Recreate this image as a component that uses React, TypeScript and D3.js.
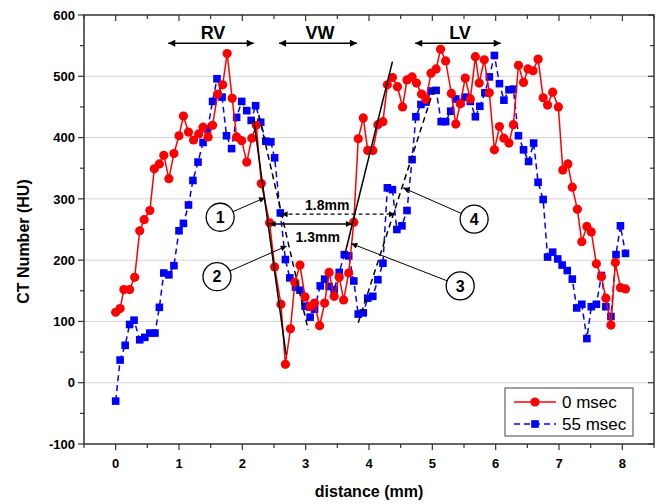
import * as d3 from "d3";

const W = 659;
const H = 504;

// data (distance mm, CT number HU)
const series0msec: [number, number][] = [
  [0, 115], [0.07, 121], [0.13, 152], [0.22, 152], [0.3, 172], [0.38, 248], [0.45, 266], [0.54, 281],
  [0.61, 349], [0.69, 357], [0.76, 371], [0.84, 333], [0.92, 374], [1.0, 403], [1.07, 435], [1.15, 409],
  [1.23, 396], [1.31, 406], [1.38, 417], [1.46, 401], [1.53, 420], [1.61, 471], [1.69, 486], [1.76, 537],
  [1.84, 464], [1.91, 401], [1.99, 395], [2.07, 360], [2.15, 399], [2.22, 420], [2.3, 325], [2.43, 261],
  [2.51, 189], [2.61, 128], [2.68, 30], [2.76, 88], [2.83, 164], [2.91, 192], [2.99, 140], [3.07, 124],
  [3.14, 130], [3.22, 93], [3.3, 130], [3.37, 180], [3.45, 141], [3.53, 172], [3.6, 135], [3.68, 179],
  [3.76, 262], [3.83, 398], [3.91, 432], [3.98, 379], [4.06, 379], [4.14, 421], [4.22, 426], [4.29, 486],
  [4.37, 498], [4.45, 483], [4.53, 450], [4.6, 494], [4.68, 499], [4.75, 489], [4.83, 471], [4.9, 462],
  [4.98, 505], [5.06, 512], [5.13, 544], [5.21, 525], [5.3, 472], [5.37, 422], [5.44, 455], [5.52, 497],
  [5.6, 463], [5.68, 532], [5.74, 489], [5.82, 527], [5.9, 473], [5.98, 380], [6.06, 418], [6.13, 399],
  [6.21, 391], [6.28, 421], [6.36, 518], [6.44, 490], [6.51, 512], [6.59, 509], [6.67, 528], [6.75, 465],
  [6.82, 453], [6.9, 474], [6.99, 450], [7.06, 347], [7.14, 357], [7.21, 319], [7.29, 283], [7.36, 230],
  [7.44, 255], [7.51, 246], [7.59, 194], [7.67, 173], [7.74, 138], [7.82, 94], [7.89, 196], [7.97, 155],
  [8.05, 153],
];

const series55msec: [number, number][] = [
  [0, -30], [0.07, 37], [0.15, 61], [0.22, 95], [0.29, 102], [0.38, 70], [0.46, 74], [0.54, 81],
  [0.62, 81], [0.69, 123], [0.76, 179], [0.84, 176], [0.92, 191], [1.0, 248], [1.07, 260], [1.15, 290],
  [1.22, 330], [1.3, 360], [1.38, 392], [1.45, 413], [1.53, 459], [1.6, 496], [1.68, 466], [1.75, 403],
  [1.83, 382], [1.91, 433], [1.99, 459], [2.07, 444], [2.14, 428], [2.21, 452], [2.29, 425], [2.37, 394],
  [2.45, 393], [2.51, 367], [2.6, 277], [2.68, 201], [2.75, 171], [2.84, 156], [2.91, 151], [2.99, 125],
  [3.07, 107], [3.14, 120], [3.23, 158], [3.3, 169], [3.37, 157], [3.45, 152], [3.53, 180], [3.61, 209],
  [3.68, 207], [3.76, 166], [3.83, 112], [3.91, 114], [3.98, 138], [4.06, 141], [4.14, 168], [4.22, 195],
  [4.29, 318], [4.37, 315], [4.44, 250], [4.52, 256], [4.6, 281], [4.68, 364], [4.74, 434], [4.82, 454],
  [4.9, 458], [4.98, 476], [5.06, 477], [5.14, 426], [5.21, 426], [5.29, 443], [5.37, 463], [5.45, 457],
  [5.52, 466], [5.6, 459], [5.68, 434], [5.75, 451], [5.83, 473], [5.9, 499], [5.98, 534], [6.06, 488],
  [6.13, 461], [6.21, 478], [6.28, 479], [6.36, 403], [6.44, 380], [6.52, 361], [6.6, 391], [6.67, 327],
  [6.75, 299], [6.82, 205], [6.9, 213], [6.98, 202], [7.05, 192], [7.13, 183], [7.21, 169], [7.28, 122],
  [7.36, 128], [7.44, 72], [7.51, 124], [7.59, 128], [7.67, 175], [7.74, 124], [7.82, 108], [7.9, 209],
  [7.97, 256], [8.05, 211],
];

const xTicks = [0, 1, 2, 3, 4, 5, 6, 7, 8];
const xMinor = [-0.5, 0.5, 1.5, 2.5, 3.5, 4.5, 5.5, 6.5, 7.5, 8.5];
const yTicks = [-100, 0, 100, 200, 300, 400, 500, 600];
const yMinor = [-50, 50, 150, 250, 350, 450, 550];
const gridValues = [0, 100, 200, 300, 400, 500];

// anatomical regions over the top
const regionLabels = ["RV", "VW", "LV"];
const regionFrom = [0.83, 2.58, 4.73];
const regionTo = [2.18, 3.81, 6.08];
const regionLevel = 554;

// fitted slopes (solid = 0 msec, dashed = 55 msec)
const slopeLines: { a: [number, number]; b: [number, number]; dashed: boolean }[] = [
  { a: [2.18, 429], b: [2.69, 46], dashed: false },
  { a: [2.26, 437], b: [3.04, 86], dashed: true },
  { a: [3.62, 210], b: [4.37, 524], dashed: false },
  { a: [3.83, 98], b: [5.03, 481], dashed: true },
];

// width measurements
const spans = [
  { label: "1.8mm", from: 2.62, to: 4.41, level: 275, textX: 3.34, textY: 290, dashed: true },
  { label: "1.3mm", from: 2.43, to: 3.73, level: 259, textX: 3.19, textY: 238, dashed: false },
];

// numbered callouts: circle centre and arrow target
const callouts = [
  { n: "1", c: [1.65, 270], t: [2.36, 302] },
  { n: "2", c: [1.6, 173], t: [2.7, 223] },
  { n: "3", c: [5.44, 158], t: [3.72, 227] },
  { n: "4", c: [5.66, 267], t: [4.54, 318] },
];

const legendNames = ["0 msec", "55 msec"];

const FONT = "'Liberation Sans', Arial, sans-serif";
const RED = "#ff0000";
const BLUE = "#0000ff";

export default function App() {
  const x = d3.scaleLinear().domain([-0.5, 8.5]).range([84, 654]);
  const y = d3.scaleLinear().domain([-100, 600]).range([444, 15]);
  const line = d3
    .line<[number, number]>()
    .x((d) => x(d[0]))
    .y((d) => y(d[1]));

  const [x0, x1] = x.range();
  const [y0, y1] = y.range();
  const sq = 7.6;

  return (
    <svg
      width={W}
      height={H}
      viewBox={`0 0 ${W} ${H}`}
      style={{ position: "absolute", left: 0, top: 0, background: "#fff", fontFamily: FONT }}
    >
      <defs>
        <marker id="ahBig" viewBox="0 0 10 10" refX="10" refY="5" markerWidth="9" markerHeight="7" markerUnits="userSpaceOnUse" orient="auto-start-reverse">
          <path d="M0,0 L10,5 L0,10 z" fill="#000" />
        </marker>
        <marker id="ahSmall" viewBox="0 0 10 10" refX="10" refY="5" markerWidth="7" markerHeight="6" markerUnits="userSpaceOnUse" orient="auto-start-reverse">
          <path d="M0,0 L10,5 L0,10 z" fill="#000" />
        </marker>
      </defs>

      {/* grid */}
      {gridValues.map((v) => (
        <line key={v} x1={x0} x2={x1} y1={y(v)} y2={y(v)} stroke="#d4d4d4" strokeWidth={1} />
      ))}

      {/* 55 msec */}
      <path d={line(series55msec) ?? ""} fill="none" stroke={BLUE} strokeWidth={1.5} strokeDasharray="6,4" />
      {series55msec.map((d, i) => (
        <rect key={i} x={x(d[0]) - sq / 2} y={y(d[1]) - sq / 2} width={sq} height={sq} fill={BLUE} />
      ))}

      {/* 0 msec */}
      <path d={line(series0msec) ?? ""} fill="none" stroke={RED} strokeWidth={1.5} />
      {series0msec.map((d, i) => (
        <circle key={i} cx={x(d[0])} cy={y(d[1])} r={4.6} fill={RED} />
      ))}

      {/* slopes */}
      {slopeLines.map((s, i) => (
        <line
          key={i}
          x1={x(s.a[0])}
          y1={y(s.a[1])}
          x2={x(s.b[0])}
          y2={y(s.b[1])}
          stroke="#000"
          strokeWidth={1.5}
          strokeDasharray={s.dashed ? "6,4" : undefined}
        />
      ))}

      {/* width spans */}
      {spans.map((s) => (
        <g key={s.label}>
          <line
            x1={x(s.from)}
            x2={x(s.to)}
            y1={y(s.level)}
            y2={y(s.level)}
            stroke="#000"
            strokeWidth={1.3}
            strokeDasharray={s.dashed ? "4,3" : undefined}
            markerStart="url(#ahSmall)"
            markerEnd="url(#ahSmall)"
          />
          <text x={x(s.textX)} y={y(s.textY)} dy="0.36em" textAnchor="middle" fontSize={14} fontWeight="bold">
            {s.label}
          </text>
        </g>
      ))}

      {/* callouts */}
      {callouts.map((c) => {
        const cx = x(c.c[0]);
        const cy = y(c.c[1]);
        const tx = x(c.t[0]);
        const ty = y(c.t[1]);
        const len = Math.hypot(tx - cx, ty - cy);
        const r = 14;
        return (
          <g key={c.n}>
            <line
              x1={cx + ((tx - cx) / len) * r}
              y1={cy + ((ty - cy) / len) * r}
              x2={tx}
              y2={ty}
              stroke="#000"
              strokeWidth={1}
              markerEnd="url(#ahSmall)"
            />
            <circle cx={cx} cy={cy} r={r} fill="#fff" stroke="#000" strokeWidth={1.3} />
            <text x={cx} y={cy} dy="0.36em" textAnchor="middle" fontSize={16} fontWeight="bold">
              {c.n}
            </text>
          </g>
        );
      })}

      {/* regions */}
      {regionLabels.map((lab, i) => (
        <g key={lab}>
          <line
            x1={x(regionFrom[i])}
            x2={x(regionTo[i])}
            y1={y(regionLevel)}
            y2={y(regionLevel)}
            stroke="#000"
            strokeWidth={1.5}
            markerStart="url(#ahBig)"
            markerEnd="url(#ahBig)"
          />
          <text
            x={x((regionFrom[i] + regionTo[i]) / 2) + 2}
            y={y(regionLevel) - 4}
            textAnchor="middle"
            fontSize={18}
            fontWeight="bold"
          >
            {lab}
          </text>
        </g>
      ))}

      {/* frame and ticks */}
      <rect x={x0} y={y1} width={x1 - x0} height={y0 - y1} fill="none" stroke="#333" strokeWidth={1.5} />
      {xTicks.map((t) => (
        <g key={t}>
          <line x1={x(t)} x2={x(t)} y1={y0} y2={y0 + 6} stroke="#333" strokeWidth={1.2} />
          <line x1={x(t)} x2={x(t)} y1={y1} y2={y1 + 6} stroke="#333" strokeWidth={1.2} />
          <text x={x(t)} y={y0 + 24} textAnchor="middle" fontSize={13} fontWeight="bold">
            {t}
          </text>
        </g>
      ))}
      {xMinor.map((t) => (
        <g key={t}>
          <line x1={x(t)} x2={x(t)} y1={y0} y2={y0 + 4} stroke="#333" strokeWidth={1.2} />
          <line x1={x(t)} x2={x(t)} y1={y1} y2={y1 + 4} stroke="#333" strokeWidth={1.2} />
        </g>
      ))}
      {yTicks.map((t) => (
        <g key={t}>
          <line x1={x0 - 6} x2={x0} y1={y(t)} y2={y(t)} stroke="#333" strokeWidth={1.2} />
          <line x1={x1 - 6} x2={x1} y1={y(t)} y2={y(t)} stroke="#333" strokeWidth={1.2} />
          <text x={x0 - 9} y={y(t)} dy="0.36em" textAnchor="end" fontSize={13} fontWeight="bold">
            {t}
          </text>
        </g>
      ))}
      {yMinor.map((t) => (
        <g key={t}>
          <line x1={x0 - 4} x2={x0} y1={y(t)} y2={y(t)} stroke="#333" strokeWidth={1.2} />
          <line x1={x1 - 4} x2={x1} y1={y(t)} y2={y(t)} stroke="#333" strokeWidth={1.2} />
        </g>
      ))}

      {/* axis titles */}
      <text x={x(4)} y={497} textAnchor="middle" fontSize={16} fontWeight="bold">
        distance (mm)
      </text>
      <text transform={`translate(29,${(y0 + y1) / 2 + 12}) rotate(-90)`} textAnchor="middle" fontSize={16} fontWeight="bold">
        CT Number (HU)
      </text>

      {/* legend */}
      <g>
        <rect x={505} y={388} width={128} height={48} fill="#fff" stroke="#444" strokeWidth={1} />
        {legendNames.map((name, i) => {
          const ly = 402 + i * 22;
          return (
            <g key={name}>
              <line
                x1={514}
                x2={556}
                y1={ly}
                y2={ly}
                stroke={i === 0 ? RED : BLUE}
                strokeWidth={1.5}
                strokeDasharray={i === 0 ? undefined : "6,4"}
              />
              {i === 0 ? (
                <circle cx={535} cy={ly} r={4.6} fill={RED} />
              ) : (
                <rect x={535 - sq / 2} y={ly - sq / 2} width={sq} height={sq} fill={BLUE} />
              )}
              <text x={562} y={ly} dy="0.36em" fontSize={17}>
                {name}
              </text>
            </g>
          );
        })}
      </g>
    </svg>
  );
}
